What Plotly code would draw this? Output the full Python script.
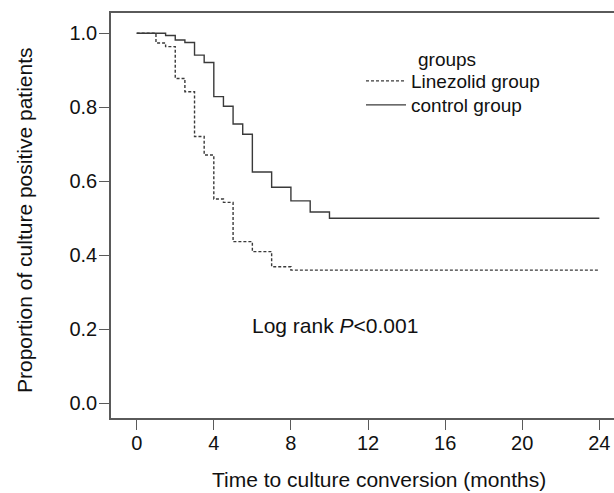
import plotly.graph_objects as go

# Kaplan-Meier step data
linezolid_t = [0, 1.0, 1.5, 2.0, 2.5, 3.0, 3.5, 4.0, 4.5, 5.0, 6.0, 7.0, 8.0, 24.0]
linezolid_s = [1.0, 0.974, 0.964, 0.878, 0.842, 0.721, 0.671, 0.552, 0.543, 0.437, 0.410, 0.369, 0.360, 0.360]

control_t = [0, 1.5, 2.0, 2.5, 3.0, 3.5, 4.0, 4.5, 5.0, 5.5, 6.0, 7.0, 8.0, 9.0, 10.0, 24.0]
control_s = [1.0, 0.994, 0.982, 0.975, 0.941, 0.921, 0.829, 0.803, 0.755, 0.727, 0.625, 0.584, 0.547, 0.517, 0.500, 0.500]

x_ticks = [0, 4, 8, 12, 16, 20, 24]
y_ticks = [0.0, 0.2, 0.4, 0.6, 0.8, 1.0]
y_tick_text = ["0.0", "0.2", "0.4", "0.6", "0.8", "1.0"]

FONT = "Liberation Sans, Arial, Helvetica, sans-serif"
AX = "#5a5a5a"
LINE = "#3a3a3a"
TXT = "#111111"

# plot area spans page x 111..614, y 13..418
def px(xp):
    return (xp - 111) / 503

def py(yp):
    return (418 - yp) / 405

fig = go.Figure()
fig.add_trace(go.Scatter(
    x=linezolid_t, y=linezolid_s, mode="lines", name="Linezolid group", legend="legend",
    line=dict(shape="hv", color=LINE, width=1.4, dash="3px,2px"),
))
fig.add_trace(go.Scatter(
    x=control_t, y=control_s, mode="lines", name="control group", legend="legend2",
    line=dict(shape="hv", color=LINE, width=1.4),
))

leg_common = dict(xanchor="left", yanchor="top", bgcolor="rgba(0,0,0,0)", itemwidth=40,
                  font=dict(size=19, family=FONT, color=TXT))

fig.update_layout(
    width=614, height=493,
    margin=dict(l=111, r=0, t=13, b=75),
    paper_bgcolor="white", plot_bgcolor="white",
    font=dict(family=FONT, size=20, color=TXT),
    showlegend=True,
    legend=dict(x=px(366 - 5), y=py(62), **leg_common),
    legend2=dict(x=px(366 - 5), y=py(86), **leg_common),
    xaxis=dict(
        range=[-1.333, 24.76], tickvals=x_ticks, ticktext=[str(v) for v in x_ticks],
        showgrid=False, zeroline=False, showline=True, linecolor=AX, linewidth=1.6,
        mirror=True, ticks="outside", ticklen=10, tickwidth=1.4, tickcolor=AX,
        ticklabelstandoff=-4,
        tickfont=dict(size=20, family=FONT, color=TXT),
    ),
    yaxis=dict(
        range=[-0.0397, 1.0549], tickvals=y_ticks, ticktext=y_tick_text,
        showgrid=False, zeroline=False, showline=True, linecolor=AX, linewidth=1.6,
        ticks="outside", ticklen=10, tickwidth=1.4, tickcolor=AX,
        ticklabelstandoff=-2,
        tickfont=dict(size=20, family=FONT, color=TXT),
    ),
    annotations=[
        dict(text="Time to culture conversion (months)", xref="paper", yref="paper",
             x=px(379), y=py(480), xanchor="center", yanchor="middle",
             showarrow=False, font=dict(size=21, family=FONT, color=TXT)),
        dict(text="Proportion of culture positive patients", xref="paper", yref="paper",
             x=px(25), y=py(220), xanchor="center", yanchor="middle",
             textangle=-90, showarrow=False, font=dict(size=21, family=FONT, color=TXT)),
        dict(text="groups", xref="paper", yref="paper",
             x=px(416), y=py(60), xanchor="left", yanchor="middle",
             showarrow=False, font=dict(size=19, family=FONT, color=TXT)),
        dict(text="Log rank <i>P</i>&lt;0.001", xref="x", yref="y",
             x=5.88, y=0.2116, xanchor="left", yanchor="middle",
             showarrow=False, font=dict(size=21, family=FONT, color=TXT)),
    ],
)

fig.write_html(
    "out.html",
    config={"displayModeBar": False},
    post_script="document.body.style.margin='0';document.body.style.overflow='hidden';",
)
